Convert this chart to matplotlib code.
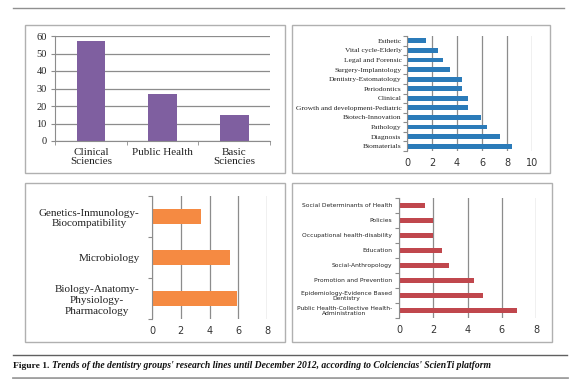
import matplotlib
matplotlib.use("Agg")
import matplotlib.pyplot as plt
from matplotlib.patches import Rectangle
from matplotlib.lines import Line2D
import numpy as np

# ---------------- data ----------------
areas = ["Clinical\nSciencies", "Public Health", "Basic\nSciencies"]
area_counts = [57, 27, 15]

clinical_lines = ["Esthetic", "Vital cycle-Elderly", "Legal and Forensic", "Surgery-Implantology",
                  "Dentistry-Estomatology", "Periodontics", "Clinical",
                  "Growth and development-Pediatric", "Biotech-Innovation", "Pathology",
                  "Diagnosis", "Biomaterials"]
clinical_values = [1.5, 2.5, 2.9, 3.4, 4.4, 4.4, 4.9, 4.9, 5.9, 6.4, 7.4, 8.4]

basic_lines = ["Genetics-Inmunology-\nBiocompatibility", "Microbiology",
               "Biology-Anatomy-\nPhysiology-\nPharmacology"]
basic_values = [3.4, 5.4, 5.9]

public_lines = ["Social Determinants of Health", "Policies", "Occupational health-disability",
                "Education", "Social-Anthropology", "Promotion and Prevention",
                "Epidemiology-Evidence Based\nDentistry",
                "Public Health-Collective Health-\nAdministration"]
public_values = [1.5, 2.0, 2.0, 2.5, 2.9, 4.4, 4.9, 6.9]

x_ticks_10 = [0, 2, 4, 6, 8, 10]
x_ticks_8 = [0, 2, 4, 6, 8]
y_ticks_60 = [0, 10, 20, 30, 40, 50, 60]

# ---------------- layout helpers ----------------
W, H = 580, 379
fig = plt.figure(figsize=(W / 100, H / 100), dpi=100)
fig.patch.set_facecolor("white")

def rect(x0, y0, x1, y1):
    return [x0 / W, 1 - y1 / H, (x1 - x0) / W, (y1 - y0) / H]

def frame(x0, y0, x1, y1):
    fig.patches.append(Rectangle((x0 / W, 1 - y1 / H), (x1 - x0) / W, (y1 - y0) / H,
                                 transform=fig.transFigure, fill=False,
                                 edgecolor="#b0b0b0", linewidth=1.0))

def hline(y, x0, x1, color="#7a7a7a", lw=1.0):
    fig.lines.append(Line2D([x0 / W, x1 / W], [1 - y / H, 1 - y / H],
                            transform=fig.transFigure, color=color, linewidth=lw))

SERIF = "Liberation Serif"
SANS = "DejaVu Sans"
GRID = "#8c8c8c"
AX = "#8c8c8c"

# top rule and caption rules
hline(8, 13, 564, "#909090", 1.0)
hline(355, 13, 567, "#606060", 1.0)
hline(377.5, 13, 567, "#a0a0a0", 2.0)

# frames
frame(25, 25, 285, 173)
frame(292, 25, 550, 173)
frame(25, 183, 285, 342)
frame(292, 183, 552, 342)

def style_hbar(ax, xmax, xticks):
    ax.set_xlim(0, xmax)
    ax.set_xticks(xticks)
    ax.xaxis.grid(True, color=GRID, linewidth=0.9)
    ax.set_axisbelow(True)
    for s in ["top", "right", "bottom"]:
        ax.spines[s].set_visible(False)
    ax.spines["left"].set_color(AX)
    ax.tick_params(axis="x", length=0, pad=5, labelsize=7, colors="#333333")
    ax.tick_params(axis="y", length=0, pad=4)

def boundary_ticks(ax, n):
    ax.set_yticks(np.arange(n + 1) - 0.5, minor=True)
    ax.tick_params(axis="y", which="minor", length=3, color=AX, width=0.8)

# ---------------- panel 1 ----------------
ax1 = fig.add_axes(rect(55, 36, 270, 141))
x1 = np.arange(len(areas))
ax1.bar(x1, area_counts, width=0.4, color="#7f5fa0")
ax1.set_ylim(0, 60)
ax1.set_xlim(-0.5, len(areas) - 0.5)
ax1.set_yticks(y_ticks_60)
ax1.set_yticklabels([str(v) for v in y_ticks_60], fontsize=7.5, family=SERIF)
ax1.set_xticks(x1)
ax1.set_xticklabels(areas, fontsize=8, family=SERIF, linespacing=1.0)
ax1.yaxis.grid(True, color=GRID, linewidth=0.9)
ax1.set_axisbelow(True)
for s in ["top", "right"]:
    ax1.spines[s].set_visible(False)
ax1.spines["left"].set_color(AX)
ax1.spines["bottom"].set_color(AX)
ax1.tick_params(axis="x", length=0, pad=5, colors="#222222")
ax1.tick_params(axis="y", length=3, color=AX, pad=3, colors="#222222")
ax1.set_xticks(np.arange(len(areas) + 1) - 0.5, minor=True)
ax1.tick_params(axis="x", which="minor", length=3, color=AX)

# ---------------- panel 2 ----------------
ax2 = fig.add_axes(rect(407, 36, 532, 151))
y2 = np.arange(len(clinical_lines))
ax2.barh(y2, clinical_values, height=0.5, color="#2b7bb9")
ax2.set_ylim(len(clinical_lines) - 0.5, -0.5)
style_hbar(ax2, 10, x_ticks_10)
ax2.set_yticks(y2)
ax2.set_yticklabels(clinical_lines, fontsize=5.4, family=SERIF, color="#222222")
ax2.tick_params(axis="y", pad=4)
boundary_ticks(ax2, len(clinical_lines))

# ---------------- panel 3 ----------------
ax3 = fig.add_axes(rect(152, 196, 267, 319))
y3 = np.arange(len(basic_lines))
ax3.barh(y3, basic_values, height=0.38, color="#f58a42")
ax3.set_ylim(len(basic_lines) - 0.5, -0.5)
style_hbar(ax3, 8, x_ticks_8)
ax3.set_yticks(y3)
ax3.set_yticklabels(basic_lines, fontsize=8, family=SERIF, color="#222222",
                    linespacing=1.25)
for lab in ax3.get_yticklabels():
    lab.set_multialignment("center")
ax3.tick_params(axis="y", pad=9)
boundary_ticks(ax3, len(basic_lines))

# ---------------- panel 4 ----------------
ax4 = fig.add_axes(rect(399, 198, 536, 318))
y4 = np.arange(len(public_lines))
ax4.barh(y4, public_values, height=0.35, color="#c0474d")
ax4.set_ylim(len(public_lines) - 0.5, -0.5)
style_hbar(ax4, 8, x_ticks_8)
ax4.set_yticks(y4)
ax4.set_yticklabels(public_lines, fontsize=4.3, family=SANS, color="#222222",
                    linespacing=1.1)
for lab in ax4.get_yticklabels():
    lab.set_multialignment("center")
ax4.tick_params(axis="y", pad=5)
boundary_ticks(ax4, len(public_lines))

# ---------------- caption ----------------
t1 = fig.text(13 / W, 1 - 366 / H, "Figure 1.", fontsize=6.8, family=SERIF, weight="bold",
              va="center", ha="left", color="#111111")
fig.canvas.draw()
bb = t1.get_window_extent(renderer=fig.canvas.get_renderer())
fig.text((bb.x1 + 3) / W, 1 - 366 / H,
         "Trends of the dentistry groups' research lines until December 2012, according to Colciencias' ScienTi platform",
         fontsize=6.9, family=SERIF, weight="bold", style="italic", va="center", ha="left",
         color="#111111")

fig.savefig("out.png", dpi=100, facecolor="white")
